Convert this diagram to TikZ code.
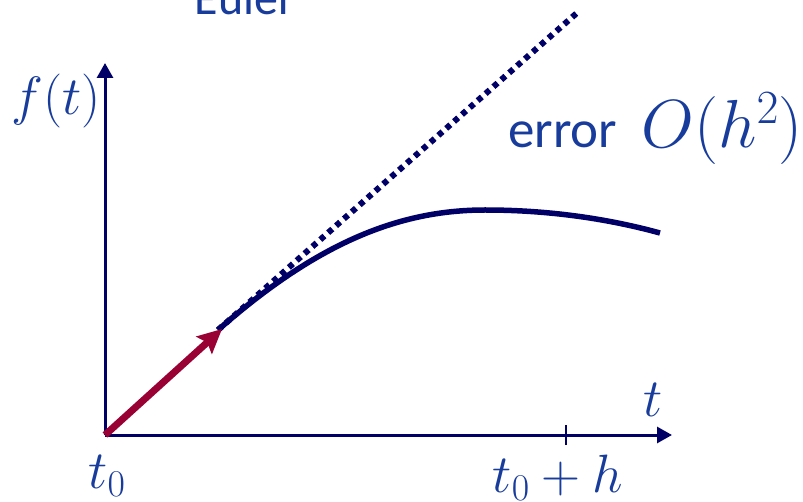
\RequirePackage{fix-cm}
\documentclass[tikz,border=0pt]{standalone}
\usepackage{fontspec}
\newfontfamily\labelfont{Carlito}
\usetikzlibrary{positioning, arrows.meta}
\definecolor{axisnavy}{RGB}{0,0,102}
\definecolor{labelblue}{RGB}{24,60,156}
\definecolor{eulerred}{RGB}{153,0,51}

\begin{document}
\begin{tikzpicture}[
        x=1pt, y=-1pt,
        axis/.style={draw=axisnavy, line width=3pt, -{Triangle[length=15pt, width=16pt]}},
        tickmark/.style={draw=axisnavy, line width=2pt},
        curve/.style={draw=axisnavy, line width=5.5pt},
        tangent/.style={draw=axisnavy, line width=6pt, dash pattern=on 5.5pt off 5pt},
        eulerstep/.style={draw=eulerred, line width=7pt, -{Stealth[length=24pt, width=23pt, inset=4pt]}},
        mathlabel/.style={text=labelblue, inner sep=0pt, font=\fontsize{54}{60}\selectfont},
        textlabel/.style={text=labelblue, inner sep=0pt, font=\labelfont\fontsize{48}{54}\selectfont}
    ]
    \useasboundingbox (0,0) rectangle (803,502);

    \coordinate (O) at (105,435);
    \coordinate (ytop) at (105,63);
    \coordinate (xend) at (672,435);
    \coordinate (tick) at (566,435);
    \coordinate (start) at (218,330);
    \coordinate (peak) at (485,210);
    \coordinate (stop) at (660,233);
    \coordinate (far) at (578,12);

    \draw[axis] (O) -- (ytop);
    \draw[axis] (O) -- (xend);
    \draw[tickmark] ([yshift=-10pt]tick) -- ([yshift=10pt]tick);

    \node[mathlabel, anchor=base] (ylab) at (56,115) {$f(t)$};
    \node[mathlabel, anchor=base] (xlab) at (653,417) {$t$};
    \node[mathlabel, below=20pt of O, xshift=2pt] (tzero) {$t_0$};
    \node[mathlabel, below=20pt of tick, xshift=-8pt] (tone) {$t_0+h$};

    \draw[tangent] (start) -- (far);
    \draw[curve] (start) .. controls (318,242) and (400,210) .. (peak)
                         .. controls (560,210) and (620,222) .. (stop);
    \draw[eulerstep] (O) -- (222,329);

    \node[textlabel, anchor=base] (euler) at (245,15) {Euler};
    \node[textlabel, anchor=base west, font=\labelfont\fontsize{53}{58}\selectfont] (errlab) at (508,148) {error};
    \node[anchor=base west, text=labelblue, inner sep=0pt, font=\fontsize{68}{74}\selectfont]
        (order) at ([xshift=24pt]errlab.base east) {$O(h^2)$};
\end{tikzpicture}
\end{document}
